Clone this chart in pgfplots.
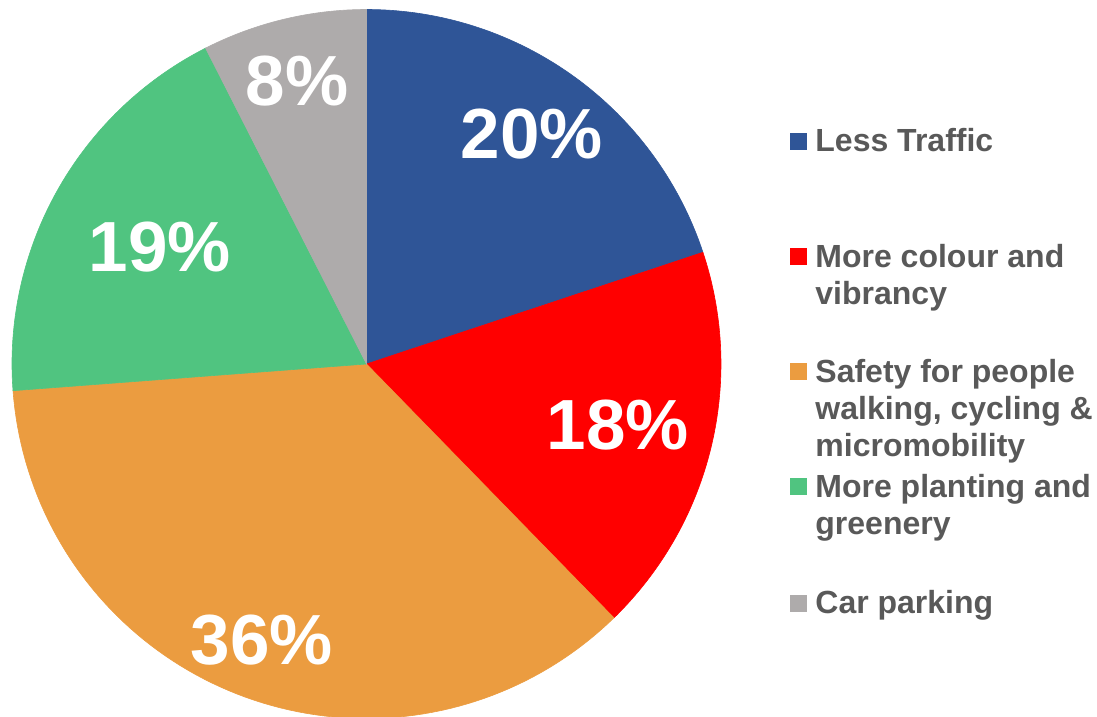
\documentclass[border=0pt]{standalone}
\usepackage{fontspec}
\setmainfont{Liberation Sans}
\usepackage{pgfplots}
\pgfplotsset{compat=1.18}

\definecolor{cblue}{HTML}{2F5597}
\definecolor{cred}{HTML}{FF0000}
\definecolor{corange}{HTML}{EB9C40}
\definecolor{cgreen}{HTML}{50C480}
\definecolor{cgray}{HTML}{AEABAB}
\definecolor{ctext}{HTML}{595959}

\tikzset{
  lbl/.style={text=white, inner sep=0pt, anchor=center,
    font=\bfseries\fontsize{35.5pt}{40pt}\selectfont},
  leg/.style={text=ctext, inner sep=0pt, anchor=base west,
    font=\bfseries\fontsize{16pt}{18.75pt}\selectfont},
  key/.style={inner sep=0pt, minimum size=8.5pt, anchor=south west},
}

\begin{document}
\begin{tikzpicture}
\begin{axis}[
  hide axis,
  x=177.25pt, y=177.25pt,
  xmin=-1.0338, xmax=2.0606,
  ymin=-0.9930, ymax=1.0268,
]
% shares in percent, drawn clockwise from 12 o'clock
\def\cum{0}
\pgfplotsforeachungrouped \v/\c in {19.9/cblue, 17.8/cred, 36.1/corange, 18.7/cgreen, 7.5/cgray}{
  \pgfmathsetmacro\a{90-3.6*\cum}
  \pgfmathsetmacro\b{90-3.6*(\cum+\v)}
  \pgfmathsetmacro\cum{\cum+\v}
  \edef\temp{\noexpand\addplot[draw=\c, line width=0.3pt, fill=\c, domain=\b:\a, samples=90]
    ({cos(x)},{sin(x)}) -- (axis cs:0,0) -- cycle;}
  \temp
}

\node[lbl] at (axis cs:0.4669,0.6474) {20\%};
\node[lbl] at (axis cs:0.7095,-0.1721) {18\%};
\node[lbl] at (axis cs:-0.2948,-0.7786) {36\%};
\node[lbl] at (axis cs:-0.5825,0.3300) {19\%};
\node[lbl] at (axis cs:-0.1961,0.7983) {8\%};

% legend
\node[key, fill=cblue]   at (axis cs:1.1946,0.6037) {};
\node[key, fill=cred]    at (axis cs:1.1946,0.2793) {};
\node[key, fill=corange] at (axis cs:1.1946,-0.0451) {};
\node[key, fill=cgreen]  at (axis cs:1.1946,-0.3695) {};
\node[key, fill=cgray]   at (axis cs:1.1946,-0.6996) {};

\node[leg] at (axis cs:1.2652,0.5980) {Less Traffic};
\node[leg] at (axis cs:1.2652,0.2736) {More colour and};
\node[leg] at (axis cs:1.2652,0.1678) {vibrancy};
\node[leg] at (axis cs:1.2652,-0.0508) {Safety for people};
\node[leg] at (axis cs:1.2652,-0.1566) {walking, cycling \&};
\node[leg] at (axis cs:1.2652,-0.2623) {micromobility};
\node[leg] at (axis cs:1.2652,-0.3752) {More planting and};
\node[leg] at (axis cs:1.2652,-0.4810) {greenery};
\node[leg] at (axis cs:1.2652,-0.7052) {Car parking};
\end{axis}
\pgfresetboundingbox
\path (current axis.south west) rectangle (current axis.north east);
\end{tikzpicture}
\end{document}
